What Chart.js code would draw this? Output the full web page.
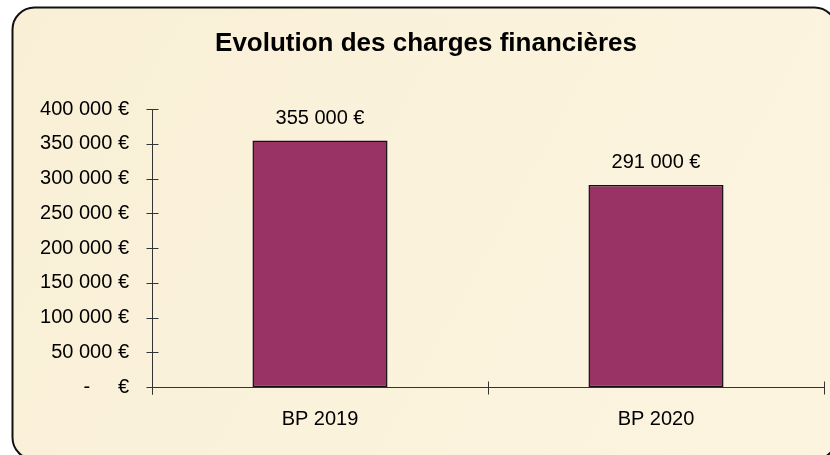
<!DOCTYPE html>
<html>
<head>
<meta charset="utf-8">
<script src="https://cdn.jsdelivr.net/npm/chart.js@4/dist/chart.umd.min.js"></script>
<style>
html,body{margin:0;padding:0;background:#fff;}
#wrap{width:830px;height:455px;}
</style>
</head>
<body>
<div id="wrap"><canvas id="c" width="830" height="455"></canvas></div>
<script>
const categories = ['BP 2019', 'BP 2020'];
const values = [355000, 291000];
const yTicks = [0, 50000, 100000, 150000, 200000, 250000, 300000, 350000, 400000];
const chartTitle = 'Evolution des charges financières';

const FONT = "Arial, 'Liberation Sans', sans-serif";
function euro(v) {
  if (v === 0) return '-\u00a0\u00a0\u00a0\u00a0\u00a0€';
  return String(v).replace(/\B(?=(\d{3})+(?!\d))/g, '\u00a0') + '\u00a0€';
}

const framePlugin = {
  id: 'frame',
  beforeDraw(chart) {
    const ctx = chart.ctx;
    ctx.save();
    ctx.fillStyle = '#ffffff';
    ctx.fillRect(0, 0, chart.width, chart.height);
    const x = 12.5, y = 7.5, w = 824, h = 452, r = 22;
    ctx.beginPath();
    ctx.moveTo(x + r, y);
    ctx.lineTo(x + w - r, y);
    ctx.arcTo(x + w, y, x + w, y + r, r);
    ctx.lineTo(x + w, y + h - r);
    ctx.arcTo(x + w, y + h, x + w - r, y + h, r);
    ctx.lineTo(x + r, y + h);
    ctx.arcTo(x, y + h, x, y + h - r, r);
    ctx.lineTo(x, y + r);
    ctx.arcTo(x, y, x + r, y, r);
    ctx.closePath();
    const g = ctx.createLinearGradient(0, 0, 830, 455);
    g.addColorStop(0, '#f9efd6');
    g.addColorStop(0.5, '#fbf2dc');
    g.addColorStop(1, '#fcf4df');
    ctx.fillStyle = g;
    ctx.fill();
    ctx.lineWidth = 2;
    ctx.strokeStyle = '#111';
    ctx.stroke();
    ctx.restore();
  },
  afterDatasetsDraw(chart) {
    const ctx = chart.ctx;
    const ys = chart.scales.y, xs = chart.scales.x;
    const left = Math.round(ys.right) + 0.5;
    const bottom = Math.round(ys.getPixelForValue(0)) + 0.5;
    ctx.save();
    ctx.strokeStyle = '#333';
    ctx.lineWidth = 1;
    ctx.beginPath();
    ctx.moveTo(left, Math.round(ys.getPixelForValue(yTicks[yTicks.length - 1])) + 0.5);
    ctx.lineTo(left, bottom + 7);
    yTicks.forEach(v => {
      const py = Math.round(ys.getPixelForValue(v)) + 0.5;
      ctx.moveTo(left - 6, py);
      ctx.lineTo(left + 6, py);
    });
    ctx.moveTo(left, bottom);
    ctx.lineTo(Math.round(xs.right) + 0.5, bottom);
    for (let i = 0; i <= categories.length; i++) {
      const px = Math.round(xs.getPixelForValue(i - 0.5)) + 0.5;
      ctx.moveTo(px, bottom - 6);
      ctx.lineTo(px, bottom + 7);
    }
    ctx.stroke();
    ctx.fillStyle = '#000';
    ctx.font = '20px ' + FONT;
    ctx.textAlign = 'center';
    ctx.textBaseline = 'alphabetic';
    const meta = chart.getDatasetMeta(0);
    meta.data.forEach((bar, i) => {
      ctx.fillText(euro(values[i]), bar.x, bar.y - 16.5);
    });
    ctx.restore();
  }
};

new Chart(document.getElementById('c'), {
  type: 'bar',
  data: {
    labels: categories,
    datasets: [{
      data: values,
      backgroundColor: '#993366',
      borderColor: '#111',
      borderWidth: 1.5,
      borderSkipped: false,
      barPercentage: 0.402,
      categoryPercentage: 1.0
    }]
  },
  options: {
    responsive: false,
    animation: false,
    devicePixelRatio: 1,
    layout: { padding: { left: 28, right: 6, top: 0, bottom: 0 } },
    plugins: {
      legend: { display: false },
      tooltip: { enabled: false },
      title: {
        display: true,
        text: chartTitle,
        color: '#000',
        font: { family: FONT, size: 26, weight: 'bold' },
        padding: { top: 28, bottom: 50 }
      }
    },
    scales: {
      x: {
        offset: true,
        grid: { display: false, drawTicks: false },
        border: { display: false },
        ticks: { color: '#000', font: { family: FONT, size: 20 }, padding: 20, maxRotation: 0 },
        afterFit(s) { s.height = 68; }
      },
      y: {
        min: 0,
        max: 400000,
        grid: { display: false, drawTicks: false },
        border: { display: false },
        ticks: {
          stepSize: 50000,
          color: '#000',
          font: { family: FONT, size: 20 },
          padding: 23,
          callback: (v) => euro(v)
        },
        afterBuildTicks(s) { s.ticks = yTicks.map(v => ({ value: v })); },
        afterFit(s) { s.width = 124; }
      }
    }
  },
  plugins: [framePlugin]
});
</script>
</body>
</html>
